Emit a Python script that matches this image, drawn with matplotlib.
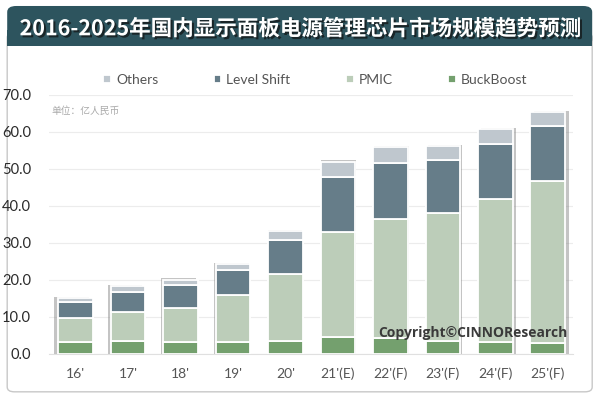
import matplotlib.pyplot as plt
import matplotlib.patheffects as pe
from matplotlib.patches import FancyBboxPatch
import numpy as np

plt.rcParams['font.family'] = ['Noto Sans CJK SC', 'DejaVu Sans']

years = ["16'", "17'", "18'", "19'", "20'", "21'(E)", "22'(F)", "23'(F)", "24'(F)", "25'(F)"]
buckboost = [3.3, 3.5, 3.3, 3.3, 3.6, 4.7, 4.4, 3.6, 3.3, 2.9]
pmic = [6.4, 7.9, 9.2, 12.7, 17.9, 28.3, 32.1, 34.5, 38.7, 43.8]
level_shift = [4.3, 5.3, 6.0, 6.6, 9.3, 14.9, 15.0, 14.3, 14.8, 14.8]
others = [1.2, 1.6, 1.6, 1.8, 2.5, 4.1, 4.3, 3.9, 4.0, 3.9]

c_others = '#bfc7ce'
c_ls = '#667d89'
c_pmic = '#bccdb9'
c_bb = '#74a06e'

fig = plt.figure(figsize=(6, 3.99), dpi=100)
fig.patch.set_facecolor('white')

# card and title banner (behind the axes)
card = FancyBboxPatch((0.012, 0.018), 0.975, 0.9, boxstyle='round,pad=0,rounding_size=0.012',
                      transform=fig.transFigure, facecolor='white', edgecolor='#c8c8c8',
                      linewidth=1.0, zorder=-2)
fig.patches.append(card)
banner = FancyBboxPatch((0.012, 0.885), 0.975, 0.1, boxstyle='round,pad=0,rounding_size=0.015',
                        transform=fig.transFigure, facecolor='#2d545e', edgecolor='none', zorder=-1)
fig.patches.append(banner)
fig.patches.append(FancyBboxPatch((0.012, 0.885), 0.975, 0.04, boxstyle='square,pad=0',
                                  transform=fig.transFigure, facecolor='#2d545e', edgecolor='none',
                                  zorder=-1))
fig.text(0.5, 0.928, '2016-2025年国内显示面板电源管理芯片市场规模趋势预测', ha='center', va='center',
         color='white', fontsize=15.5, fontweight='bold',
         path_effects=[pe.withSimplePatchShadow(offset=(1.5, -1.5), shadow_rgbFace='#111', alpha=0.7)])

ax = fig.add_axes([0.082, 0.113, 0.873, 0.649])
ax.set_zorder(2)
ax.patch.set_alpha(0)
x = np.arange(len(years))
w = 0.66

tot = np.array(buckboost) + np.array(pmic) + np.array(level_shift) + np.array(others)
# soft shadow behind each stack
for i in range(len(x)):
    off = (x[i] - 4.5) * 0.016
    ax.bar(x[i] + off, tot[i] + 0.3, w, color='#8a8a8a', alpha=0.5, zorder=2, linewidth=0)

b0 = np.zeros(len(x))
for vals, col, lab in [(buckboost, c_bb, 'BuckBoost'), (pmic, c_pmic, 'PMIC'),
                       (level_shift, c_ls, 'Level Shift'), (others, c_others, 'Others')]:
    ax.bar(x, vals, w, bottom=b0, color=col, edgecolor='white', linewidth=1.3, label=lab, zorder=3)
    b0 = b0 + np.array(vals)

ax.set_xlim(-0.5, 9.48)
ax.set_ylim(0, 70)
ax.set_yticks(np.arange(0, 71, 10))
ax.set_yticklabels([f'{v:.1f}' for v in np.arange(0, 71, 10)], fontsize=10.5, color='#2a2a2a',
                   family=['Lato', 'DejaVu Sans'])
ax.set_xticks(x)
ax.set_xticklabels(years, fontsize=10, color='#555', family=['Lato', 'DejaVu Sans'])
ax.tick_params(axis='y', length=0, pad=13)
ax.tick_params(axis='x', length=0, pad=10)
ax.grid(axis='y', color='#ececec', linewidth=0.8, zorder=0)
ax.set_axisbelow(True)
for s in ['top', 'right', 'left']:
    ax.spines[s].set_visible(False)
ax.spines['bottom'].set_color('#e0e0e0')

handles, labels = ax.get_legend_handles_labels()
order = [3, 2, 1, 0]
leg = ax.legend([handles[i] for i in order], [labels[i] for i in order], loc='center',
                bbox_to_anchor=(0.508, 1.058), ncol=4, frameon=False,
                handlelength=0.55, handleheight=0.55, handletextpad=0.35, columnspacing=4.0,
                prop={'family': ['Lato', 'DejaVu Sans'], 'size': 10})
for t in leg.get_texts():
    t.set_color('#555')

ax.text(0.005, 0.94, '单位：亿人民币', transform=ax.transAxes, fontsize=7, color='#aaaaaa', va='center')
ax.text(0.99, 0.08, 'Copyright©CINNOResearch', transform=ax.transAxes, ha='right', va='center',
        fontsize=10, fontweight='bold', color='#3a3a3a', family=['Open Sans', 'DejaVu Sans'], zorder=5)

fig.savefig('out.png', dpi=100)
